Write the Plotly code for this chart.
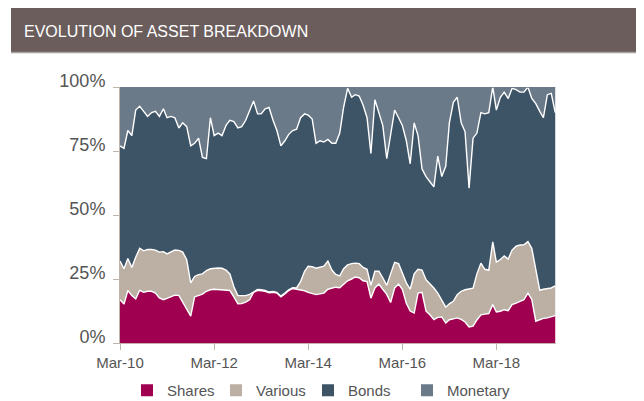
import plotly.graph_objects as go
import pandas as pd

# Monthly observations, Mar-2010 .. Jun-2019
months = pd.date_range("2010-03-01", periods=112, freq="MS")

# Cumulative boundaries (percent)
shares_top = [
    16.9, 15.2, 20.5, 18.5, 17.2, 20.6, 19.8, 20.2, 20.2, 19.5,
    17.6, 16.9, 17.4, 18.0, 18.7, 18.6, 16.0, 13.5, 10.5, 18.0,
    18.5, 19.1, 20.2, 20.8, 21.0, 20.8, 20.6, 20.4, 20.5, 18.0,
    15.3, 15.4, 16.0, 16.9, 19.8, 20.6, 20.5, 20.2, 19.6, 19.8,
    19.5, 18.0, 19.2, 20.5, 21.3, 21.0, 20.7, 20.4, 19.8, 19.3,
    18.9, 19.2, 19.5, 21.0, 21.5, 21.8, 21.6, 23.0, 24.3, 25.0,
    25.8, 25.5, 24.3, 24.0, 17.5, 21.5, 23.0, 21.0, 19.0, 15.8,
    21.5, 23.0, 21.0, 15.5, 12.5, 11.7, 19.5, 19.8, 12.4, 11.0,
    9.1, 10.0, 10.2, 7.8, 9.1, 9.4, 9.8, 9.2, 8.2, 6.3,
    6.6, 9.0, 11.0, 11.3, 11.5, 15.0, 12.1, 12.4, 13.0, 12.6,
    15.0, 15.6, 16.3, 16.9, 19.5, 17.0, 8.5, 9.1, 9.6, 9.8,
    10.2, 10.7,
]
various_top = [
    32.0, 29.0, 33.0, 29.5, 33.5, 37.0, 36.0, 36.5, 36.5, 36.3,
    35.5, 35.7, 34.8, 35.6, 36.3, 36.2, 35.5, 32.5, 23.5, 26.0,
    26.7, 27.0, 28.3, 29.0, 29.2, 29.3, 29.2, 28.5, 27.0, 22.0,
    18.5, 18.5, 18.5, 19.0, 20.1, 20.9, 20.8, 20.5, 19.9, 20.1,
    19.8, 18.3, 19.5, 20.8, 21.6, 21.5, 24.0, 28.0, 30.0, 29.8,
    29.2, 29.5, 30.0, 32.0, 28.5, 26.8, 26.2, 29.0, 30.5, 31.0,
    31.2, 31.0, 29.5, 28.8, 22.5, 28.0, 28.0, 25.5, 22.5, 27.0,
    31.5, 31.0, 27.0, 23.5, 21.0, 27.0, 28.8, 28.5, 24.7, 23.2,
    21.5, 19.5, 17.0, 14.0, 15.3, 16.3, 18.9, 20.2, 20.8, 21.1,
    21.4, 27.0, 31.2, 28.8, 28.4, 39.5, 31.6, 32.6, 34.0, 32.8,
    36.3, 37.8, 38.3, 38.4, 39.6, 37.0, 29.0, 20.6, 21.0, 21.4,
    21.5, 22.3,
]
bonds_top = [
    77, 76, 83, 81, 91, 92.5, 90.5, 88.5, 90, 90.5,
    88.5, 91.5, 88, 88.5, 88, 84, 86, 84.5, 77, 78,
    80, 72.5, 72, 88, 81, 82, 81, 85, 87, 86.5,
    84, 84.5, 87, 90.5, 94.5, 89.5, 89.5, 91.5, 92, 87,
    83, 77, 79, 81.5, 83, 83.5, 88, 89.5, 89, 87.5,
    78, 79, 78.5, 79.5, 78, 78, 82, 92, 99.5, 96,
    97, 96.5, 93, 88, 74, 95, 90, 85, 72, 82,
    91, 88, 85, 79, 70, 86, 81, 68, 65, 63,
    61, 73, 65, 69, 86, 94, 96, 86, 82.5, 60.5,
    80, 82, 90, 89.5, 90, 100, 91, 96, 98, 95.5,
    99.5, 99, 98, 98, 100, 95.5, 93.5, 90.5, 88, 97,
    97.5, 90,
]
monetary_top = [100] * len(months)

series_names = ["Shares", "Various", "Bonds", "Monetary"]
series_colors = ["#a00050", "#bcafa3", "#3d5366", "#6b7a89"]
tick_dates = ["2010-03-01", "2012-03-01", "2014-03-01", "2016-03-01", "2018-03-01"]
tick_labels = ["Mar-10", "Mar-12", "Mar-14", "Mar-16", "Mar-18"]
y_ticks = [0, 25, 50, 75, 100]
y_labels = ["0%", "25%", "50%", "75%", "100%"]

FONT = "Liberation Sans, Arial, Helvetica, sans-serif"
TXT = "#555555"
AXC = "#bdb4ac"

fig = go.Figure()
tops = [shares_top, various_top, bonds_top, monetary_top]
for i, (name, col, ys) in enumerate(zip(series_names, series_colors, tops)):
    fig.add_trace(go.Scatter(
        x=months, y=ys, mode="lines",
        fill="tozeroy" if i == 0 else "tonexty",
        fillcolor=col,
        line=dict(color="white" if i < 3 else col, width=1.4),
        showlegend=False, hoverinfo="skip", name=name,
    ))

# figure coordinates (the page adds an 8px body margin)
L, R, T, B = 112, 96, 79, 66
W, H = 644, 401
pw, ph = W - L - R, H - T - B

def px(xp):
    return (xp - L) / pw

def py(yp):
    return (H - B - yp) / ph

# legend swatches, each in its own legend box
legend_x = [119, 208, 300, 399]
legend_ids = ["legend", "legend2", "legend3", "legend4"]
for name, col, lid in zip(series_names, series_colors, legend_ids):
    fig.add_trace(go.Bar(x=[None], y=[None], name=name, legend=lid,
                         marker=dict(color=col, line=dict(width=0)),
                         showlegend=True))

legend_layout = {}
for lid, lx in zip(legend_ids, legend_x):
    legend_layout[lid] = dict(orientation="h", xref="container", yref="container",
                              x=lx / W, xanchor="left", y=1 - 382.5 / H, yanchor="middle",
                              font=dict(size=15, color=TXT), itemwidth=30,
                              bgcolor="rgba(0,0,0,0)")

fig.update_layout(
    width=W, height=H,
    margin=dict(l=L, r=R, t=T, b=B, autoexpand=False),
    paper_bgcolor="white", plot_bgcolor="white",
    font=dict(family=FONT, color=TXT),
    showlegend=True,
    **legend_layout,
    xaxis=dict(type="date", range=["2010-03-01", "2019-06-07"],
               tickvals=tick_dates, ticktext=tick_labels,
               showgrid=False, zeroline=False, showline=True, linecolor=AXC, linewidth=1,
               ticks="outside", ticklen=6, tickcolor=AXC,
               tickfont=dict(size=15, color=TXT)),
    yaxis=dict(range=[0, 100], tickvals=y_ticks, ticktext=y_labels,
               showgrid=False, zeroline=False, showline=True, linecolor=AXC, linewidth=1,
               ticks="outside", ticklen=6, tickcolor=AXC,
               ticklabelshift=-6,
               tickfont=dict(size=18, color=TXT), ticklabelstandoff=4),
    shapes=[
        dict(type="rect", xref="paper", yref="paper",
             x0=px(3), x1=px(646), y0=py(44), y1=py(-1),
             fillcolor="#6a5d5c", line=dict(width=0), layer="above"),
        dict(type="line", xref="paper", yref="paper",
             x0=px(3), x1=px(646), y0=py(44.5), y1=py(44.5),
             line=dict(color="#a8a09e", width=1.5)),
    ],
    annotations=[
        dict(text="EVOLUTION OF ASSET BREAKDOWN", xref="paper", yref="paper",
             x=px(14), y=py(23.5), xanchor="left", yanchor="middle", showarrow=False,
             font=dict(size=16, color="white", family=FONT)),
    ],
)

fig.write_html("out.html")
